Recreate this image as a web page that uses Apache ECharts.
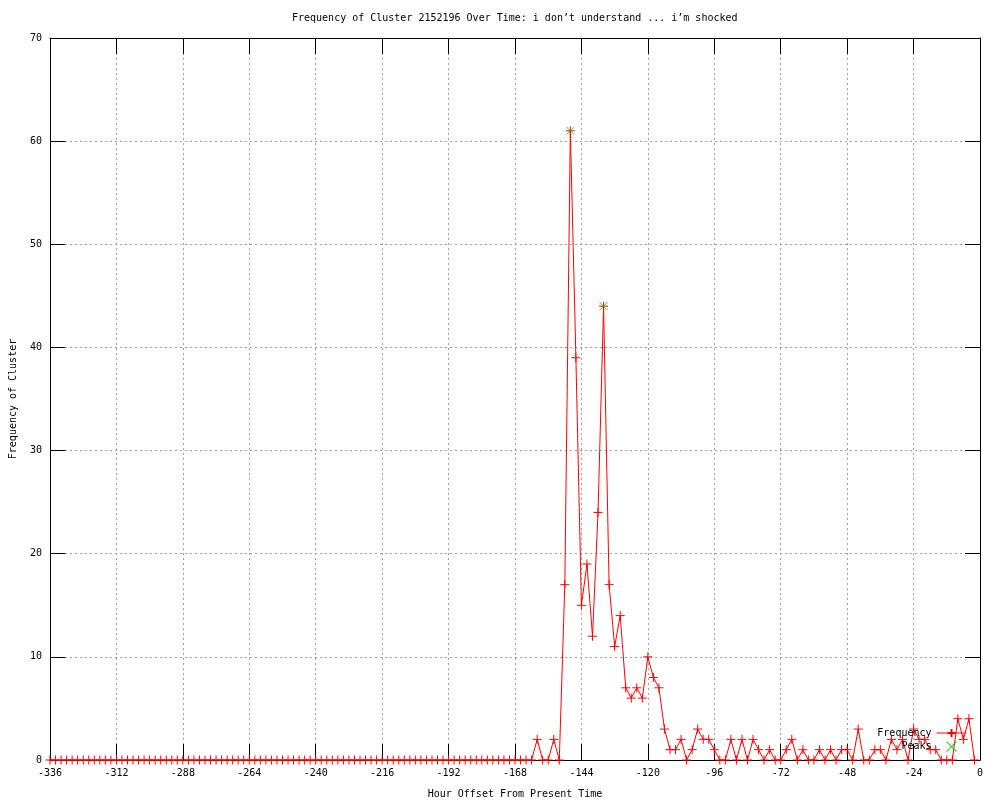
<!DOCTYPE html>
<html>
<head>
<meta charset="utf-8">
<script src="https://cdn.jsdelivr.net/npm/echarts@6/dist/echarts.min.js"></script>
<style>html,body{margin:0;padding:0;background:#fff}#c{width:1000px;height:800px}</style>
</head>
<body>
<div id="c"></div>
<script>
const titleText = 'Frequency of Cluster 2152196 Over Time: i don\u2019t understand ... i\u2019m shocked';
const xAxisName = 'Hour Offset From Present Time';
const yAxisName = 'Frequency of Cluster';
const seriesNames = ['Frequency', 'Peaks'];

const hours = [
  -336,-334,-332,-330,-328,-326,-324,-322,-320,-318,-316,-314,-312,-310,-308,-306,-304,-302,-300,-298,
  -296,-294,-292,-290,-288,-286,-284,-282,-280,-278,-276,-274,-272,-270,-268,-266,-264,-262,-260,-258,
  -256,-254,-252,-250,-248,-246,-244,-242,-240,-238,-236,-234,-232,-230,-228,-226,-224,-222,-220,-218,
  -216,-214,-212,-210,-208,-206,-204,-202,-200,-198,-196,-194,-192,-190,-188,-186,-184,-182,-180,-178,
  -176,-174,-172,-170,-168,-166,-164,-162,-160,-158,-156,-154,-152,-150,-148,-146,-144,-142,-140,-138,
  -136,-134,-132,-130,-128,-126,-124,-122,-120,-118,-116,-114,-112,-110,-108,-106,-104,-102,-100,-98,
  -96,-94,-92,-90,-88,-86,-84,-82,-80,-78,-76,-74,-72,-70,-68,-66,-64,-62,-60,-58,
  -56,-54,-52,-50,-48,-46,-44,-42,-40,-38,-36,-34,-32,-30,-28,-26,-24,-22,-20,-18,
  -16,-14,-12,-10,-8,-6,-4,-2
];

const frequency = [
  0,0,0,0,0,0,0,0,0,0,0,0,0,0,0,0,0,0,0,0,
  0,0,0,0,0,0,0,0,0,0,0,0,0,0,0,0,0,0,0,0,
  0,0,0,0,0,0,0,0,0,0,0,0,0,0,0,0,0,0,0,0,
  0,0,0,0,0,0,0,0,0,0,0,0,0,0,0,0,0,0,0,0,
  0,0,0,0,0,0,0,0,2,0,0,2,0,17,61,39,15,19,12,24,
  44,17,11,14,7,6,7,6,10,8,7,3,1,1,2,0,1,3,2,2,
  1,0,0,2,0,2,0,2,1,0,1,0,0,1,2,0,1,0,0,1,
  0,1,0,1,1,0,3,0,0,1,1,0,2,1,2,0,3,2,2,1,
  1,0,0,0,4,2,4,0
];

const peakHours = [-148, -136];
const peakValues = [61, 44];

const xTicks = { min: -336, max: 0, interval: 24 };
const yTicks = { min: 0, max: 70, interval: 10 };

const FONT = 'DejaVu Sans Mono';
const plusPath = 'path://M0,5L10,5M5,0L5,10';
const crossPath = 'path://M0,0L10,10M10,0L0,10';

const freqData = hours.map((h, i) => [h, frequency[i]]);
const peakData = peakHours.map((h, i) => [h, peakValues[i]]);

const chart = echarts.init(document.getElementById('c'), null, { renderer: 'canvas' });

const gridLine = { show: true, lineStyle: { color: '#a0a0a0', type: [2, 3], width: 1 } };
const axLine = { show: true, onZero: false, lineStyle: { color: '#000', width: 1 } };
const labelStyle = { fontFamily: FONT, fontSize: 10, color: '#000' };

chart.setOption({
  animation: false,
  backgroundColor: '#fff',
  title: {
    text: titleText,
    left: 292, top: 13, padding: 0,
    textStyle: { fontFamily: FONT, fontSize: 10, fontWeight: 'normal', color: '#000' }
  },
  grid: { left: 50, right: 20, top: 38, bottom: 40, containLabel: false, outerBoundsMode: 'none' },
  legend: {
    data: [
      { name: 'Frequency' },
      { name: 'Peaks', icon: crossPath, itemStyle: { color: 'rgba(0,0,0,0)', borderColor: '#00c000', borderWidth: 1.2 } }
    ],
    orient: 'vertical',
    right: 33, top: 728, padding: 0,
    align: 'right',
    itemWidth: 30, itemHeight: 10, itemGap: 3,
    lineStyle: { width: 1 },
    textStyle: { fontFamily: FONT, fontSize: 10, color: '#000' },
    selectedMode: false
  },
  xAxis: [
    {
      type: 'value', position: 'bottom',
      min: xTicks.min, max: xTicks.max, interval: xTicks.interval,
      name: xAxisName, nameLocation: 'middle', nameGap: 29,
      nameTextStyle: labelStyle,
      axisLine: axLine,
      axisTick: { show: true, inside: true, length: 16, lineStyle: { color: '#000' } },
      axisLabel: Object.assign({ margin: 8 }, labelStyle),
      splitLine: gridLine
    },
    {
      type: 'value', position: 'top',
      min: xTicks.min, max: xTicks.max, interval: xTicks.interval,
      axisLine: axLine,
      axisTick: { show: true, inside: true, length: 16, lineStyle: { color: '#000' } },
      axisLabel: { show: false },
      splitLine: { show: false }
    }
  ],
  yAxis: [
    {
      type: 'value', position: 'left',
      min: yTicks.min, max: yTicks.max, interval: yTicks.interval,
      name: yAxisName, nameLocation: 'middle', nameGap: 32, nameRotate: 90,
      nameTextStyle: labelStyle,
      axisLine: axLine,
      axisTick: { show: true, inside: true, length: 15, lineStyle: { color: '#000' } },
      axisLabel: Object.assign({ margin: 8 }, labelStyle),
      splitLine: gridLine
    },
    {
      type: 'value', position: 'right',
      min: yTicks.min, max: yTicks.max, interval: yTicks.interval,
      axisLine: axLine,
      axisTick: { show: true, inside: true, length: 15, lineStyle: { color: '#000' } },
      axisLabel: { show: false },
      splitLine: { show: false }
    }
  ],
  series: [
    {
      name: seriesNames[0],
      type: 'line',
      data: freqData,
      xAxisIndex: 0, yAxisIndex: 0,
      symbol: plusPath,
      symbolSize: 9,
      showAllSymbol: true,
      clip: false,
      lineStyle: { color: '#ff0000', width: 1 },
      itemStyle: { color: 'rgba(0,0,0,0)', borderColor: '#ff0000', borderWidth: 1 },
      emphasis: { disabled: true },
      z: 3
    },
    {
      name: seriesNames[1],
      type: 'scatter',
      data: peakData,
      xAxisIndex: 0, yAxisIndex: 0,
      symbol: crossPath,
      symbolSize: 8,
      symbolKeepAspect: true,
      itemStyle: { color: 'rgba(0,0,0,0)', borderColor: '#00c000', borderWidth: 1 },
      emphasis: { disabled: true },
      z: 4
    }
  ]
});
</script>
</body>
</html>
